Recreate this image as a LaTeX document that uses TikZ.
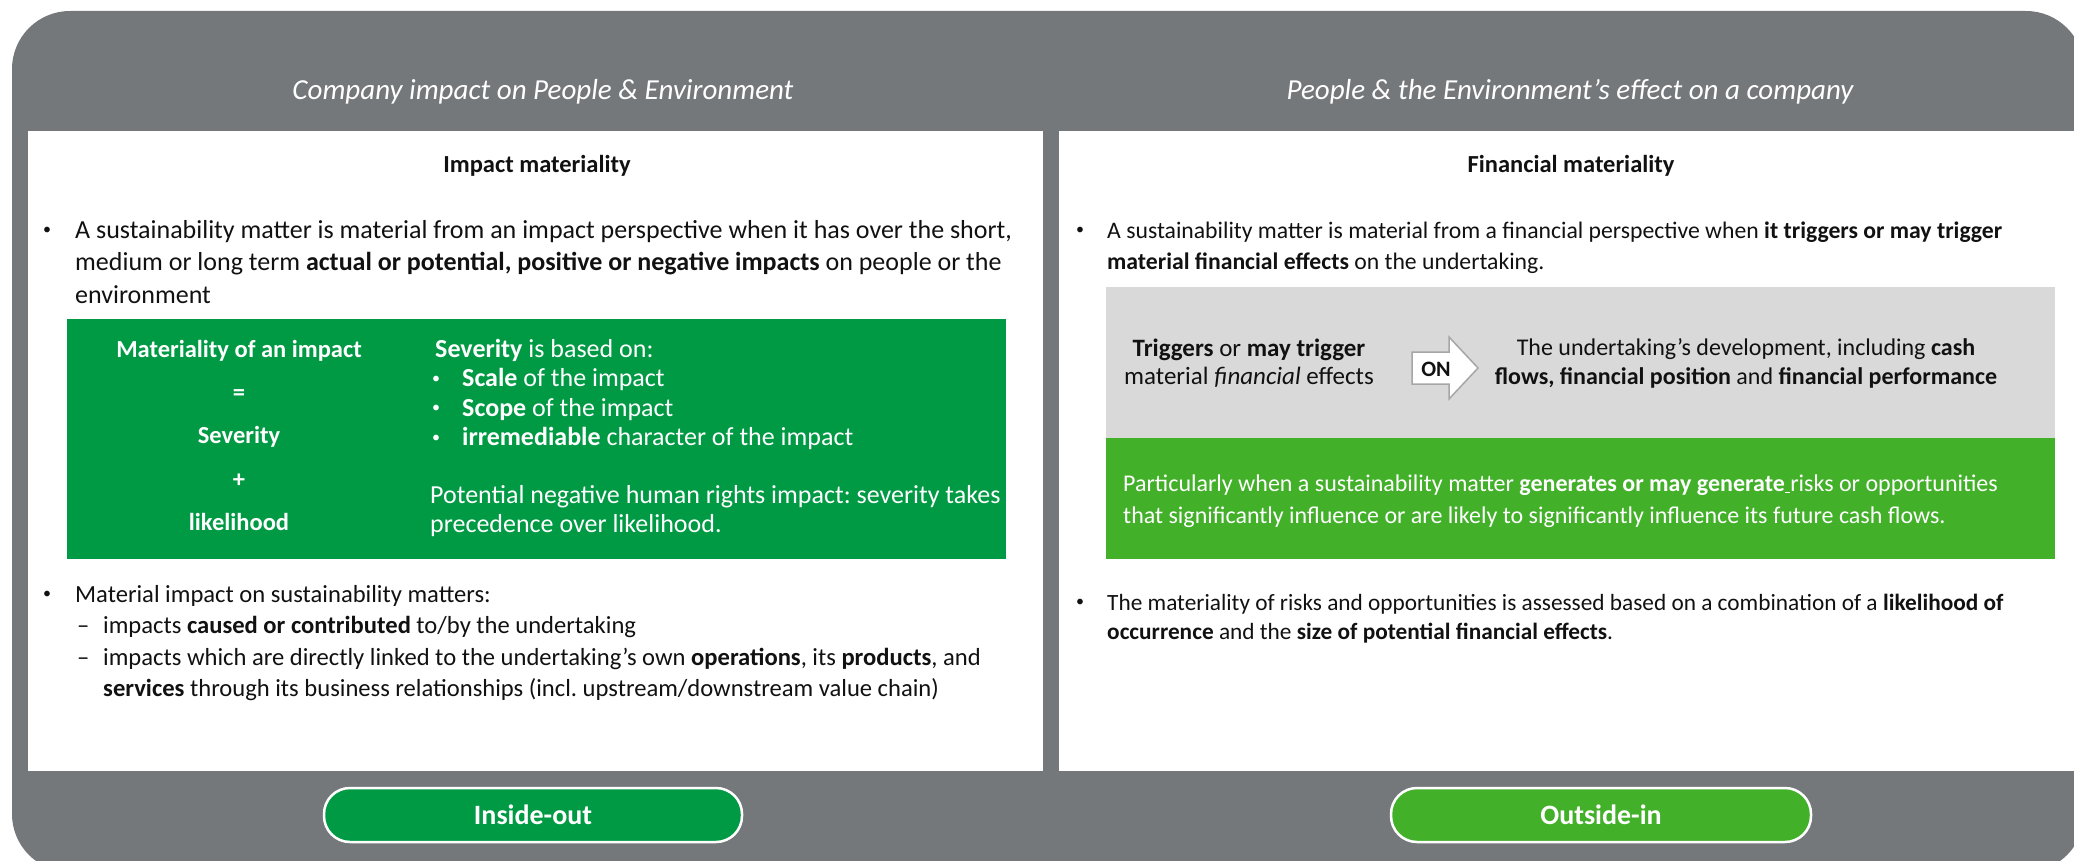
\documentclass[tikz,border=0pt]{standalone}
\usepackage{fontspec}
\setmainfont{Carlito}
\definecolor{framegray}{HTML}{75787B}
\definecolor{darkgreen}{HTML}{009A44}
\definecolor{lightgreen}{HTML}{43B02A}
\definecolor{boxgray}{HTML}{D9D9D9}
\definecolor{arrowgray}{HTML}{A6A6A6}
\definecolor{txtblack}{HTML}{111111}
\begin{document}
\frenchspacing
\begin{tikzpicture}[x=1pt,y=-1pt,
  txt/.style={anchor=base west, inner sep=0pt, text=txtblack, font=\fontsize{24}{29}\selectfont},
  bigtxt/.style={txt, font=\fontsize{26}{30}\selectfont},
  midtxt/.style={txt, font=\fontsize{24.6}{30}\selectfont},
  bul/.style={anchor=base west, inner sep=0pt, text=txtblack, font=\fontsize{16}{18}\selectfont},
  ctxt/.style={txt, anchor=base},
  wtxt/.style={bigtxt, text=white},
  wbul/.style={bul, text=white},
  wctxt/.style={anchor=base, inner sep=0pt, text=white, font=\fontsize{24.5}{29}\selectfont\bfseries},
  titletxt/.style={anchor=base, inner sep=0pt, text=white, font=\fontsize{29}{32}\selectfont\itshape},
  headtxt/.style={anchor=base, inner sep=0pt, text=txtblack, font=\fontsize{24.5}{30}\selectfont\bfseries},
  pill/.style={draw=white, line width=2.5pt, rounded corners=26pt, minimum width=#1, minimum height=54pt, inner sep=0pt, text=white, font=\fontsize{28}{30}\selectfont\bfseries}
]
\useasboundingbox (0,0) rectangle (2074,861);
\fill[white] (0,0) rectangle (2074,861);
% outer frame
\fill[framegray, rounded corners=58pt] (12,11) rectangle (2084,872);
% panels
\fill[white] (28,131) rectangle (1043,771);
\fill[white] (1059,131) rectangle (2074,771);
% titles
\node[titletxt] (tl) at (543,100) {Company impact on People \& Environment};
\node[titletxt] (tr) at (1570,100) {People \& the Environment’s effect on a company};
\node[headtxt] (hl) at (537,173) {Impact materiality};
\node[headtxt] (hr) at (1571,173) {Financial materiality};

% ---------- left panel ----------
\node[bul] (lb1) at (43,234.5) {•};
\node[bigtxt] (l1a) at (75,238) {A sustainability matter is material from an impact perspective when it has over the short,};
\node[bigtxt] (l1b) at (75,270.5) {medium or long term \textbf{actual or potential, positive or negative impacts} on people or the};
\node[bigtxt] (l1c) at (75,303) {environment};

\fill[darkgreen] (67,319) rectangle (1006,559);
\node[wctxt] (g1) at (239,357) {Materiality of an impact};
\node[wctxt] (g2) at (239,400.3) {=};
\node[wctxt] (g3) at (239,443.6) {Severity};
\node[wctxt] (g4) at (239,487) {+};
\node[wctxt] (g5) at (239,530) {likelihood};

\node[wtxt] (s0) at (435,357) {\textbf{Severity} is based on:};
\node[wbul] (sb1) at (432,383) {•};
\node[wtxt] (s1) at (462,386.5) {\textbf{Scale} of the impact};
\node[wbul] (sb2) at (432,412.5) {•};
\node[wtxt] (s2) at (462,416) {\textbf{Scope} of the impact};
\node[wbul] (sb3) at (432,442) {•};
\node[wtxt] (s3) at (462,445.5) {\textbf{irremediable} character of the impact};
\node[wtxt] (p1) at (430,503) {Potential negative human rights impact: severity takes};
\node[wtxt] (p2) at (430,532) {precedence over likelihood.};

\node[bul] (lb2) at (43,598.5) {•};
\node[midtxt] (l2a) at (75,602) {Material impact on sustainability matters:};
\node[midtxt] (ld1) at (77,633) {–};
\node[midtxt] (l2b) at (103,633) {impacts \textbf{caused or contributed} to/by the undertaking};
\node[midtxt] (ld2) at (77,665) {–};
\node[midtxt] (l2c) at (103,665) {impacts which are directly linked to the undertaking’s own \textbf{operations}, its \textbf{products}, and};
\node[midtxt] (l2d) at (103,696) {\textbf{services} through its business relationships (incl. upstream/downstream value chain)};

\node[pill=418pt, fill=darkgreen] (io) at (533,815) {Inside-out};

% ---------- right panel ----------
\node[bul] (rb1) at (1076,234.5) {•};
\node[txt, font=\fontsize{23.7}{29}\selectfont] (r1a) at (1107,238) {A sustainability matter is material from a financial perspective when \textbf{it triggers or may trigger}};
\node[txt, font=\fontsize{23.7}{29}\selectfont] (r1b) at (1107,269) {\textbf{material financial effects} on the undertaking.};

\fill[boxgray] (1106,287) rectangle (2055,438);
\fill[lightgreen] (1106,438) rectangle (2055,559);

\node[ctxt, font=\fontsize{25}{29}\selectfont] (t1) at (1249,356) {\textbf{Triggers} or \textbf{may trigger}};
\node[ctxt, font=\fontsize{25}{29}\selectfont] (t2) at (1249,384) {material \textit{financial} effects};
\draw[arrowgray, fill=white, line width=1.5pt, line join=miter]
  (1412,352) -- (1449,352) -- (1449,337) -- (1478,368) -- (1449,399) -- (1449,384) -- (1412,384) -- cycle;
\node[ctxt, font=\fontsize{22}{24}\selectfont\bfseries] (on) at (1436,376) {ON};
\node[ctxt] (u1) at (1746,355) {The undertaking’s development, including \textbf{cash}};
\node[ctxt] (u2) at (1746,384) {\textbf{flows, financial position} and \textbf{financial performance}};

\node[txt, text=white] (q1) at (1123,491) {Particularly when a sustainability matter \textbf{generates or may generate}\underline{\ }risks or opportunities};
\node[txt, text=white] (q2) at (1123,523) {that significantly influence or are likely to significantly influence its future cash flows.};

\node[bul] (rb2) at (1076,606.5) {•};
\node[txt, font=\fontsize{23.3}{29}\selectfont] (r2a) at (1107,610) {The materiality of risks and opportunities is assessed based on a combination of a \textbf{likelihood of}};
\node[txt, font=\fontsize{23.3}{29}\selectfont] (r2b) at (1107,639) {\textbf{occurrence} and the \textbf{size of potential financial effects}.};

\node[pill=420pt, fill=lightgreen] (oi) at (1601,815) {Outside-in};
\end{tikzpicture}
\end{document}
